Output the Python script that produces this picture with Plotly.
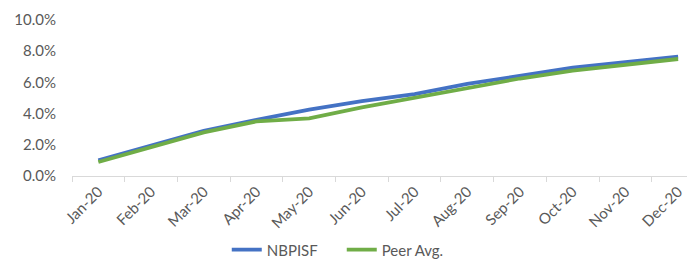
import plotly.graph_objects as go

months = ["Jan-20", "Feb-20", "Mar-20", "Apr-20", "May-20", "Jun-20",
          "Jul-20", "Aug-20", "Sep-20", "Oct-20", "Nov-20", "Dec-20"]
nbpisf = [0.0100, 0.0195, 0.0290, 0.0360, 0.0425, 0.0480,
          0.0525, 0.0590, 0.0645, 0.0695, 0.0730, 0.0765]
peer_avg = [0.0090, 0.0185, 0.0280, 0.0350, 0.0370, 0.0440,
            0.0500, 0.0565, 0.0625, 0.0675, 0.0710, 0.0750]
y_ticks = [0, 0.02, 0.04, 0.06, 0.08, 0.10]

FONT = "Lato"
GRAY = "#595959"

fig = go.Figure()
fig.add_trace(go.Scatter(x=months, y=nbpisf, mode="lines", name="NBPISF",
                         line=dict(color="#4472C4", width=3.8)))
fig.add_trace(go.Scatter(x=months, y=peer_avg, mode="lines", name="Peer Avg.",
                         line=dict(color="#70AD47", width=3.8)))

fig.update_layout(
    width=695, height=259,
    margin=dict(l=64, r=8, t=12, b=91, autoexpand=False),
    paper_bgcolor="white", plot_bgcolor="white",
    font=dict(family=FONT, color=GRAY, size=15),
    showlegend=True,
    legend=dict(orientation="h", x=0.433, xanchor="center", y=-0.474, yanchor="middle",
                font=dict(size=15, color=GRAY), entrywidth=70, tracegroupgap=0),
    xaxis=dict(type="category", range=[-0.5, 11.32], showgrid=False, automargin=False,
               showline=True, linecolor="#d9d9d9", linewidth=1,
               ticks="outside", ticklen=5, tickcolor="#d9d9d9", tickson="boundaries",
               tickangle=-45, tickfont=dict(size=15, color=GRAY), zeroline=False),
    yaxis=dict(range=[0, 0.10], tickvals=y_ticks, tickformat=".1%", showgrid=False,
               automargin=False,
               showline=False, zeroline=False, ticks="", ticklabelstandoff=15,
               tickfont=dict(size=15, color=GRAY)),
)

fig.write_html("out.html")
